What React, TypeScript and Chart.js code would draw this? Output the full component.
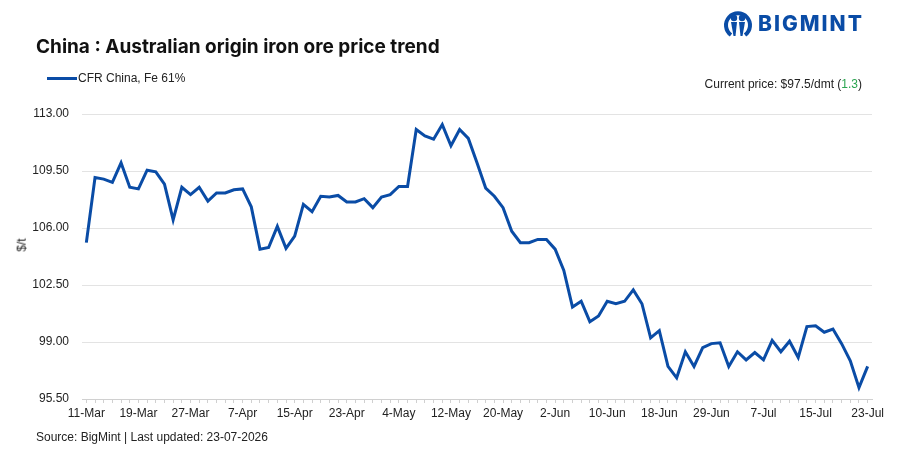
import React, { useEffect, useRef } from "react";
import { Chart, registerables } from "chart.js";

Chart.register(...registerables);

const categories: string[] = [
  "11-Mar", "12-Mar", "13-Mar", "14-Mar", "15-Mar", "18-Mar",
  "19-Mar", "20-Mar", "21-Mar", "22-Mar", "25-Mar", "26-Mar",
  "27-Mar", "28-Mar", "29-Mar", "1-Apr", "2-Apr", "3-Apr",
  "7-Apr", "8-Apr", "9-Apr", "10-Apr", "11-Apr", "12-Apr",
  "15-Apr", "16-Apr", "17-Apr", "18-Apr", "19-Apr", "22-Apr",
  "23-Apr", "24-Apr", "25-Apr", "26-Apr", "29-Apr", "30-Apr",
  "4-May", "5-May", "6-May", "7-May", "8-May", "11-May",
  "12-May", "13-May", "14-May", "15-May", "18-May", "19-May",
  "20-May", "21-May", "22-May", "26-May", "27-May", "1-Jun",
  "2-Jun", "3-Jun", "4-Jun", "5-Jun", "8-Jun", "9-Jun",
  "10-Jun", "11-Jun", "12-Jun", "15-Jun", "16-Jun", "17-Jun",
  "18-Jun", "19-Jun", "22-Jun", "23-Jun", "25-Jun", "26-Jun",
  "29-Jun", "30-Jun", "1-Jul", "2-Jul", "3-Jul", "6-Jul",
  "7-Jul", "8-Jul", "9-Jul", "10-Jul", "13-Jul", "14-Jul",
  "15-Jul", "16-Jul", "17-Jul", "20-Jul", "21-Jul", "22-Jul",
  "23-Jul",
];

const cfrChinaFe61: number[] = [
  105.1, 109.1, 109.0, 108.8, 110.0, 108.5,
  108.4, 109.55, 109.45, 108.7, 106.5, 108.5,
  108.05, 108.5, 107.65, 108.15, 108.15, 108.35,
  108.4, 107.3, 104.7, 104.8, 106.1, 104.75,
  105.5, 107.45, 107.0, 107.95, 107.9, 108.0,
  107.6, 107.6, 107.8, 107.25, 107.9, 108.05,
  108.55, 108.55, 112.05, 111.65, 111.45, 112.35,
  111.05, 112.05, 111.5, 110.0, 108.45, 107.95,
  107.25, 105.8, 105.1, 105.1, 105.3, 105.3,
  104.7, 103.4, 101.15, 101.5, 100.25, 100.6,
  101.5, 101.35, 101.5, 102.2, 101.35, 99.25,
  99.7, 97.5, 96.8, 98.4, 97.5, 98.65,
  98.9, 98.95, 97.5, 98.4, 97.9, 98.35,
  97.9, 99.1, 98.4, 99.05, 98.05, 99.95,
  100.0, 99.6, 99.8, 98.9, 97.85, 96.2,
  97.5,
];

const tickLabels: string[] = [
  "11-Mar", "19-Mar", "27-Mar", "7-Apr", "15-Apr", "23-Apr", "4-May", "12-May",
  "20-May", "2-Jun", "10-Jun", "18-Jun", "29-Jun", "7-Jul", "15-Jul", "23-Jul",
];

const yTicks: number[] = [95.5, 99.0, 102.5, 106.0, 109.5, 113.0];

const seriesName = "CFR China, Fe 61%";
const currentPrice = "97.5";
const priceChange = "1.3";

const TITLE_FONT = "Inter, 'Liberation Sans', Arial, sans-serif";
const FONT = "'Liberation Sans', Arial, sans-serif";
const BLUE = "#0a4ca6";

export default function App() {
  const canvasRef = useRef<HTMLCanvasElement | null>(null);

  useEffect(() => {
    document.body.style.margin = "0";
    const canvas = canvasRef.current;
    if (!canvas) return;
    const chart = new Chart(canvas, {
      type: "line",
      data: {
        labels: categories,
        datasets: [
          {
            label: seriesName,
            data: cfrChinaFe61,
            borderColor: BLUE,
            backgroundColor: BLUE,
            borderWidth: 3,
            pointRadius: 0,
            tension: 0,
            fill: false,
          },
        ],
      },
      options: {
        animation: false,
        responsive: false,
        maintainAspectRatio: false,
        devicePixelRatio: 1,
        layout: { padding: { left: 0, right: 34, top: 114, bottom: 0 } },
        plugins: {
          legend: { display: false },
          title: { display: false },
          tooltip: { enabled: false },
        },
        scales: {
          x: {
            type: "category",
            offset: true,
            afterFit: (scale: any) => {
              scale.height = 54;
            },
            grid: {
              display: true,
              drawOnChartArea: false,
              drawTicks: true,
              tickLength: 4,
              color: "#d0d0d0",
              offset: false,
            },
            border: { display: true, color: "#d0d0d0", width: 1 },
            ticks: {
              autoSkip: false,
              maxRotation: 0,
              minRotation: 0,
              padding: 3,
              color: "#222222",
              font: { family: FONT, size: 12 },
              callback: function (_v: any, i: number) {
                const lab = categories[i];
                return tickLabels.includes(lab) && i % 6 === 0 ? lab : "";
              },
            },
          },
          y: {
            min: 95.5,
            max: 113,
            afterFit: (scale: any) => {
              scale.width = 82;
            },
            afterBuildTicks: (scale: any) => {
              scale.ticks = yTicks.map((v) => ({ value: v }));
            },
            grid: {
              display: true,
              drawTicks: false,
              color: "#e3e3e3",
              lineWidth: 1,
            },
            border: { display: false },
            ticks: {
              padding: 13,
              color: "#222222",
              font: { family: FONT, size: 12 },
              callback: (v: any) => Number(v).toFixed(2),
            },
          },
        },
      },
    });
    return () => chart.destroy();
  }, []);

  return (
    <div
      style={{
        position: "fixed",
        left: 0,
        top: 0,
        width: 906,
        height: 453,
        background: "#ffffff",
        fontFamily: FONT,
        overflow: "hidden",
      }}
    >
      <canvas
        ref={canvasRef}
        width={906}
        height={453}
        style={{ position: "absolute", left: 0, top: 0, width: 906, height: 453 }}
      />
      <div
        style={{
          position: "absolute",
          left: 36,
          top: 35,
          fontFamily: TITLE_FONT,
          fontSize: 19,
          fontWeight: 700,
          color: "#111111",
          whiteSpace: "nowrap",
          lineHeight: "24px",
        }}
      >
        China : Australian origin iron ore price trend
      </div>
      <div
        style={{
          position: "absolute",
          left: 47,
          top: 70,
          display: "flex",
          alignItems: "center",
          fontSize: 12,
          color: "#222222",
          whiteSpace: "nowrap",
          lineHeight: "16px",
        }}
      >
        <span style={{ display: "inline-block", width: 30, height: 3, background: BLUE, marginRight: 1 }} />
        <span>{seriesName}</span>
      </div>
      <div
        style={{
          position: "absolute",
          right: 44,
          top: 76,
          fontSize: 12,
          color: "#222222",
          whiteSpace: "nowrap",
          lineHeight: "16px",
        }}
      >
        Current price: ${currentPrice}/dmt (<span style={{ color: "#2aa44f" }}>{priceChange}</span>)
      </div>
      <div
        style={{
          position: "absolute",
          left: 15,
          top: 245,
          transform: "translate(0, -50%) rotate(-90deg)",
          fontSize: 12,
          color: "#222222",
          whiteSpace: "nowrap",
          lineHeight: "14px",
        }}
      >
        $/t
      </div>
      <div
        style={{
          position: "absolute",
          left: 36,
          top: 429,
          fontSize: 12,
          color: "#222222",
          whiteSpace: "nowrap",
          lineHeight: "16px",
        }}
      >
        Source: BigMint | Last updated: 23-07-2026
      </div>
      <svg
        width={30}
        height={30}
        viewBox="0 0 30 30"
        style={{ position: "absolute", left: 723, top: 9 }}
      >
        <path d="M8 26 A12 12 0 1 1 22 26" fill="none" stroke={BLUE} strokeWidth={4} />
        <circle cx={11} cy={9} r={3.2} fill={BLUE} />
        <circle cx={19} cy={9} r={3.2} fill={BLUE} />
        <path d="M8 13 L14 13 L12.5 27 L10.5 27 Z" fill={BLUE} />
        <path d="M16 13 L22 13 L19.5 27 L17.5 27 Z" fill={BLUE} />
      </svg>
      <div
        style={{
          position: "absolute",
          left: 758,
          top: 12,
          fontFamily: TITLE_FONT,
          fontSize: 21,
          fontWeight: 800,
          color: BLUE,
          letterSpacing: 2,
          whiteSpace: "nowrap",
          lineHeight: "24px",
        }}
      >
        BIGMINT
      </div>
    </div>
  );
}
